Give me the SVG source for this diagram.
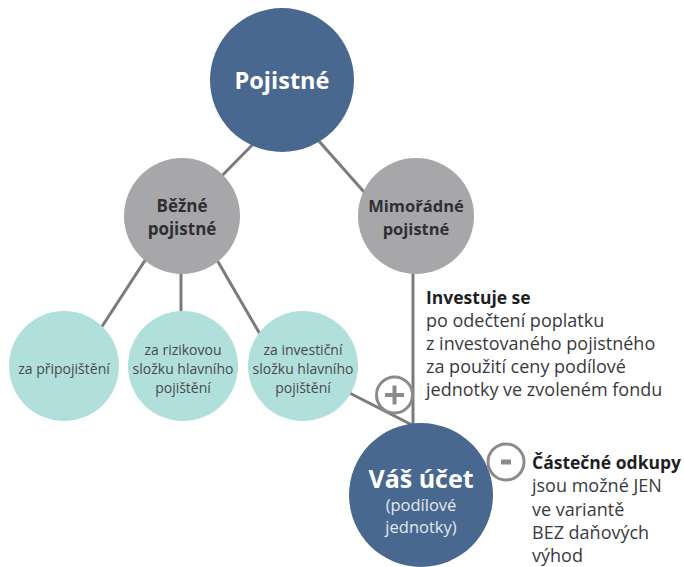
<svg xmlns="http://www.w3.org/2000/svg" width="684" height="567" viewBox="0 0 684 567">
<style>
.blue{fill:#48688f}
.grey{fill:#a7a7a9}
.teal{fill:#b1dfdb}
.ln{stroke:#7b7b7d;stroke-width:3;fill:none}
text{font-family:"Open Sans","Liberation Sans",sans-serif}
.t1{font-size:25px;font-weight:700;fill:#fff}
.t2{font-size:16.5px;font-weight:700;fill:#2f2f33}
.t3{font-size:14px;fill:#4a4a4e}
.t4{font-size:18px;fill:#3a3a3e}
.t4b{font-size:17.5px;font-weight:700;fill:#1f1f23}
.t5{font-size:16.5px;fill:#e3e9f1}
.sign{fill:#fff;stroke:#8a8a8c;stroke-width:3}
</style>
<g id="connectors">
<line class="ln" x1="262" y1="135" x2="205" y2="193"/>
<line class="ln" x1="310" y1="131" x2="380" y2="210"/>
<line class="ln" x1="155" y1="245" x2="90" y2="345"/>
<line class="ln" x1="181" y1="255" x2="181" y2="330"/>
<line class="ln" x1="210" y1="248" x2="275" y2="360"/>
<line class="ln" x1="330" y1="383" x2="418" y2="428"/>
<line class="ln" x1="413" y1="260" x2="413" y2="430"/>
</g>
<g id="pojistne">
<circle class="blue" cx="282" cy="80" r="72"/>
<text class="t1" x="282" y="89" text-anchor="middle" style="font-size:23.5px">Pojistné</text>
</g>
<g id="bezne">
<circle class="grey" cx="182" cy="216" r="58"/>
<text class="t2" x="182" y="212" text-anchor="middle" style="font-size:17px">Běžné</text>
<text class="t2" x="182" y="235" text-anchor="middle" style="font-size:17px">pojistné</text>
</g>
<g id="mimoradne">
<circle class="grey" cx="416" cy="216" r="58"/>
<text class="t2" x="416" y="212" text-anchor="middle">Mimořádné</text>
<text class="t2" x="416" y="235" text-anchor="middle">pojistné</text>
</g>
<g id="pripojisteni">
<circle class="teal" cx="64" cy="366" r="55"/>
<text class="t3" x="64" y="374" text-anchor="middle">za připojištění</text>
</g>
<g id="rizikova">
<circle class="teal" cx="183" cy="366" r="55"/>
<text class="t3" x="183" y="355" text-anchor="middle">za rizikovou</text>
<text class="t3" x="183" y="374" text-anchor="middle">složku hlavního</text>
<text class="t3" x="183" y="393" text-anchor="middle">pojištění</text>
</g>
<g id="investicni">
<circle class="teal" cx="303" cy="366" r="55"/>
<text class="t3" x="303" y="355" text-anchor="middle">za investiční</text>
<text class="t3" x="303" y="374" text-anchor="middle">složku hlavního</text>
<text class="t3" x="303" y="393" text-anchor="middle">pojištění</text>
</g>
<g id="ucet">
<circle class="blue" cx="421" cy="495" r="72"/>
<text class="t1" x="421" y="488" text-anchor="middle">Váš účet</text>
<text class="t5" x="421" y="511" text-anchor="middle">(podílové</text>
<text class="t5" x="421" y="533" text-anchor="middle">jednotky)</text>
</g>
<g id="plus">
<circle class="sign" cx="394.5" cy="395" r="18"/>
<path d="M385 395h19M394.5 385.5v19" stroke="#8a8a8c" stroke-width="4"/>
</g>
<g id="minus">
<circle class="sign" cx="506" cy="462" r="18"/>
<path d="M501 462h10" stroke="#8a8a8c" stroke-width="5"/>
</g>
<g id="investuje">
<text class="t4b" x="426" y="304">Investuje se</text>
<text class="t4" x="426" y="327">po odečtení poplatku</text>
<text class="t4" x="426" y="350">z investovaného pojistného</text>
<text class="t4" x="426" y="373">za použití ceny podílové</text>
<text class="t4" x="426" y="396">jednotky ve zvoleném fondu</text>
</g>
<g id="odkupy">
<text class="t4b" x="532" y="469">Částečné odkupy</text>
<text class="t4" x="532" y="492">jsou možné JEN</text>
<text class="t4" x="532" y="516">ve variantě</text>
<text class="t4" x="532" y="539">BEZ daňových</text>
<text class="t4" x="532" y="562">výhod</text>
</g>
</svg>
